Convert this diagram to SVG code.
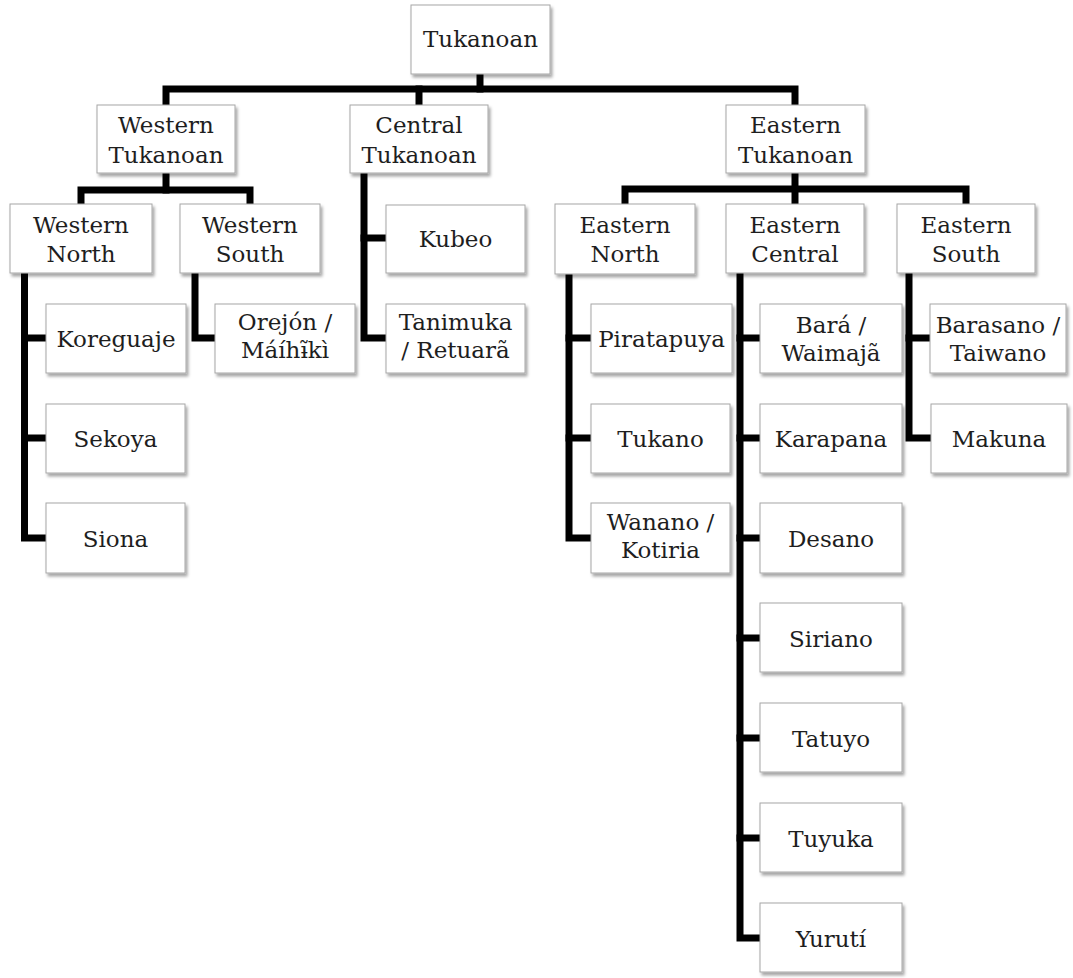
<svg xmlns="http://www.w3.org/2000/svg" width="1073" height="978" viewBox="0 0 1073 978">
  <style>
    .box { fill: #ffffff; stroke: #a6a6a6; stroke-width: 1; filter: url(#shadow); }
    .lbl { font-family: "DejaVu Serif", "Liberation Serif", serif; font-size: 23px; fill: #1e1e1e; text-anchor: middle; }
    .wire { fill: none; stroke: #000000; stroke-width: 7; stroke-linejoin: miter; stroke-linecap: square; }
  </style>
  <defs>
    <filter id="shadow" x="-10%" y="-10%" width="125%" height="130%">
      <feDropShadow dx="2" dy="3" stdDeviation="1.8" flood-color="#000000" flood-opacity="0.35"/>
    </filter>
  </defs>
  <rect width="1073" height="978" fill="#ffffff"/>

  <!-- tree links -->
  <g id="connectors" class="wire">
    <path d="M480,74 V89"/>
    <path d="M166,105 V89 H795 V105"/>
    <path d="M419,89 V105"/>

    <path d="M166,173 V190"/>
    <path d="M81,204 V190 H250 V204"/>

    <path d="M24.5,273 V538 H46"/>
    <path d="M24.5,338 H46"/>
    <path d="M24.5,438 H46"/>

    <path d="M195,273 V338 H215"/>

    <path d="M364,173 V338 H386"/>
    <path d="M364,238 H386"/>

    <path d="M795,173 V204"/>
    <path d="M625,204 V189 H966 V204"/>

    <path d="M569,274 V538 H591"/>
    <path d="M569,338 H591"/>
    <path d="M569,438 H591"/>

    <path d="M740,273 V938 H760"/>
    <path d="M740,338 H760"/>
    <path d="M740,438 H760"/>
    <path d="M740,538 H760"/>
    <path d="M740,638 H760"/>
    <path d="M740,738 H760"/>
    <path d="M740,838 H760"/>

    <path d="M909,273 V438 H930"/>
    <path d="M909,338 H930"/>
  </g>

  <!-- root -->
  <g id="tukanoan">
    <rect class="box" x="411" y="5" width="139" height="69"/>
    <text class="lbl" x="480.5" y="47">Tukanoan</text>
  </g>

  <!-- branches -->
  <g id="western-tukanoan">
    <rect class="box" x="97" y="105" width="138" height="68"/>
    <text class="lbl" x="166" y="133">Western</text>
    <text class="lbl" x="166" y="163">Tukanoan</text>
  </g>
  <g id="central-tukanoan">
    <rect class="box" x="350" y="105" width="138" height="68"/>
    <text class="lbl" x="419" y="133">Central</text>
    <text class="lbl" x="419" y="163">Tukanoan</text>
  </g>
  <g id="eastern-tukanoan">
    <rect class="box" x="726" y="105" width="139" height="68"/>
    <text class="lbl" x="795.5" y="133">Eastern</text>
    <text class="lbl" x="795.5" y="163">Tukanoan</text>
  </g>

  <!-- sub-branches -->
  <g id="western-north">
    <rect class="box" x="10" y="204" width="142" height="69"/>
    <text class="lbl" x="81" y="233">Western</text>
    <text class="lbl" x="81" y="262">North</text>
  </g>
  <g id="western-south">
    <rect class="box" x="180" y="204" width="140" height="69"/>
    <text class="lbl" x="250" y="233">Western</text>
    <text class="lbl" x="250" y="262">South</text>
  </g>
  <g id="eastern-north">
    <rect class="box" x="555" y="204" width="140" height="70"/>
    <text class="lbl" x="625" y="233">Eastern</text>
    <text class="lbl" x="625" y="262">North</text>
  </g>
  <g id="eastern-central">
    <rect class="box" x="726" y="204" width="138" height="69"/>
    <text class="lbl" x="795" y="233">Eastern</text>
    <text class="lbl" x="795" y="262">Central</text>
  </g>
  <g id="eastern-south">
    <rect class="box" x="897" y="204" width="138" height="69"/>
    <text class="lbl" x="966" y="233">Eastern</text>
    <text class="lbl" x="966" y="262">South</text>
  </g>

  <!-- Western North languages -->
  <g id="koreguaje">
    <rect class="box" x="46" y="304" width="140" height="69"/>
    <text class="lbl" x="116" y="347">Koreguaje</text>
  </g>
  <g id="sekoya">
    <rect class="box" x="46" y="404" width="139" height="69"/>
    <text class="lbl" x="115.5" y="447">Sekoya</text>
  </g>
  <g id="siona">
    <rect class="box" x="46" y="503" width="139" height="70"/>
    <text class="lbl" x="115.5" y="547">Siona</text>
  </g>

  <!-- Western South -->
  <g id="orejon">
    <rect class="box" x="215" y="304" width="140" height="69"/>
    <text class="lbl" x="285" y="330">Orejón /</text>
    <text class="lbl" x="285" y="358">Máíhɨ̃kì</text>
  </g>

  <!-- Central Tukanoan languages -->
  <g id="kubeo">
    <rect class="box" x="386" y="205" width="139" height="68"/>
    <text class="lbl" x="455.5" y="247">Kubeo</text>
  </g>
  <g id="tanimuka">
    <rect class="box" x="386" y="304" width="139" height="69"/>
    <text class="lbl" x="455.5" y="330">Tanimuka</text>
    <text class="lbl" x="455.5" y="358">/ Retuarã</text>
  </g>

  <!-- Eastern North languages -->
  <g id="piratapuya">
    <rect class="box" x="591" y="304" width="141" height="69"/>
    <text class="lbl" x="661.5" y="347">Piratapuya</text>
  </g>
  <g id="tukano">
    <rect class="box" x="591" y="404" width="139" height="69"/>
    <text class="lbl" x="660.5" y="447">Tukano</text>
  </g>
  <g id="wanano">
    <rect class="box" x="591" y="503" width="139" height="70"/>
    <text class="lbl" x="660.5" y="530">Wanano /</text>
    <text class="lbl" x="660.5" y="558">Kotiria</text>
  </g>

  <!-- Eastern Central languages -->
  <g id="bara">
    <rect class="box" x="760" y="304" width="142" height="69"/>
    <text class="lbl" x="831" y="333">Bará /</text>
    <text class="lbl" x="831" y="361">Waimajã</text>
  </g>
  <g id="karapana">
    <rect class="box" x="760" y="404" width="142" height="69"/>
    <text class="lbl" x="831" y="447">Karapana</text>
  </g>
  <g id="desano">
    <rect class="box" x="760" y="503" width="142" height="70"/>
    <text class="lbl" x="831" y="547">Desano</text>
  </g>
  <g id="siriano">
    <rect class="box" x="760" y="603" width="142" height="69"/>
    <text class="lbl" x="831" y="647">Siriano</text>
  </g>
  <g id="tatuyo">
    <rect class="box" x="760" y="703" width="142" height="69"/>
    <text class="lbl" x="831" y="747">Tatuyo</text>
  </g>
  <g id="tuyuka">
    <rect class="box" x="760" y="803" width="142" height="69"/>
    <text class="lbl" x="831" y="847">Tuyuka</text>
  </g>
  <g id="yuruti">
    <rect class="box" x="760" y="903" width="142" height="69"/>
    <text class="lbl" x="831" y="947">Yurutí</text>
  </g>

  <!-- Eastern South languages -->
  <g id="barasano">
    <rect class="box" x="930" y="304" width="136" height="69"/>
    <text class="lbl" x="998" y="333">Barasano /</text>
    <text class="lbl" x="998" y="361">Taiwano</text>
  </g>
  <g id="makuna">
    <rect class="box" x="931" y="404" width="136" height="69"/>
    <text class="lbl" x="999" y="447">Makuna</text>
  </g>
</svg>
